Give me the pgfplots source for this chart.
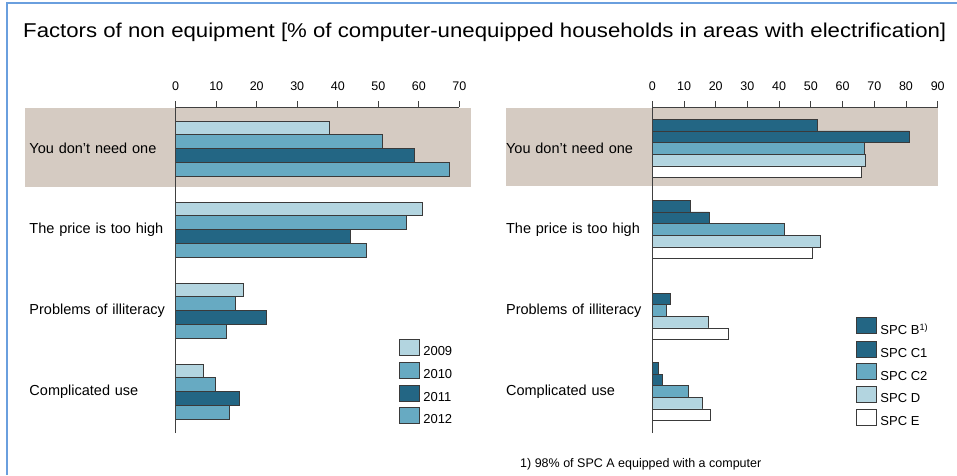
\documentclass[border=0pt]{standalone}
\usepackage{pgfplots}
\pgfplotsset{compat=1.18}
\usepackage{fontspec}
\setmainfont{Liberation Sans}
\newfontfamily\titlefont[FakeStretch=1.11]{Liberation Sans}
\definecolor{cdark}{HTML}{236684}
\definecolor{cmed}{HTML}{67AAC2}
\definecolor{clight}{HTML}{B3D5E0}
\definecolor{cband}{HTML}{D5CBC2}
\definecolor{cframe}{HTML}{6A9FDE}
\definecolor{cedge}{HTML}{3A3A3A}
\pgfplotsset{
  panel/.style={
    scale only axis, height=326pt,
    xbar, clip=false, axis on top,
    axis x line*=top, axis y line*=left,
    xmin=0, ymin=-0.512, ymax=3.512,
    ytick={0,1,2,3},
    yticklabels={Complicated use,Problems of illiteracy,The price is too high,You don't need one},
    major y tick style={draw=none},
    tick align=outside, major tick length=6pt,
    axis line style={line width=0.8pt, color=black!75},
    major x tick style={line width=0.8pt, color=black!75},
    /pgf/number format/assume math mode=true,
    xticklabel style={font=\fontsize{12.5}{12.5}\selectfont, inner sep=0pt, anchor=base, yshift=10.7pt},
    yticklabel style={font=\fontsize{14.5}{16}\selectfont, text width=140pt, align=left, anchor=east, inner sep=0pt},
    legend style={draw=none, fill=none, inner sep=0pt, row sep=3pt, column sep=2pt,
      font=\fontsize{13}{13}\selectfont, anchor=north west, nodes={inner sep=1.5pt}},
    legend cell align=left,
    legend image code/.code={\draw[##1] (0pt,-3.5pt) rectangle (20pt,12.5pt);},
  },
  barst/.style={draw=cedge, line width=0.7pt},
}
\begin{document}
\begin{tikzpicture}[x=1pt,y=1pt]
\draw[cframe, line width=1.5pt] (7pt,0pt) -- (7pt,472pt) -- (957pt,472pt);
\node[anchor=base west, inner sep=0pt, font=\titlefont\fontsize{20}{22}\selectfont] at (23pt,437pt)
  {Factors of non equipment [\% of computer-unequipped households in areas with electrification]};
% left panel
\begin{axis}[panel, at={(175.7pt,42pt)}, anchor=south west, width=283.6pt,
  xmax=70, xtick={0,10,...,70}, bar width=13.75pt,
  legend style={at={(0.787,0.288)}}]
  \fill[cband] (axis cs:-37.2,3.5) rectangle (axis cs:72.9,2.525);
  \addplot[barst, fill=clight, bar shift=20.6pt] coordinates {(38,3) (61,2) (16.8,1) (6.8,0)};
  \addplot[barst, fill=cmed, bar shift=6.9pt] coordinates {(50.9,3) (57,2) (14.7,1) (9.8,0)};
  \addplot[barst, fill=cdark, bar shift=-6.9pt] coordinates {(58.8,3) (43,2) (22.3,1) (15.7,0)};
  \addplot[barst, fill=cmed, bar shift=-20.6pt] coordinates {(67.6,3) (47,2) (12.4,1) (13.2,0)};
  \legend{2009,2010,2011,2012}
\end{axis}
% right panel
\begin{axis}[panel, at={(652.3pt,42pt)}, anchor=south west, width=285.4pt,
  xmax=90, xtick={0,10,...,90}, bar width=11.67pt,
  legend style={at={(0.714,0.356)}}]
  \fill[cband] (axis cs:-46.1,3.5) rectangle (axis cs:90,2.537);
  \addplot[barst, fill=cdark, bar shift=23.3pt] coordinates {(52,3) (12.1,2) (1.9,0)};
  \addplot[barst, fill=cdark, bar shift=11.67pt] coordinates {(81.1,3) (18,2) (5.8,1) (3.3,0)};
  \addplot[barst, fill=cmed, bar shift=0pt] coordinates {(66.9,3) (41.6,2) (4.5,1) (11.5,0)};
  \addplot[barst, fill=clight, bar shift=-11.67pt] coordinates {(67.1,3) (52.9,2) (17.8,1) (15.9,0)};
  \addplot[barst, fill=white, bar shift=-23.3pt] coordinates {(66,3) (50.5,2) (24.1,1) (18.4,0)};
  \legend{SPC B\textsuperscript{1)},SPC C1,SPC C2,SPC D,SPC E}
\end{axis}
\node[anchor=base west, inner sep=0pt, font=\fontsize{12.5}{12.5}\selectfont] at (520pt,8pt)
  {1) 98\% of SPC A equipped with a computer};
\pgfresetboundingbox
\path[use as bounding box] (0pt,0pt) rectangle (957pt,475pt);
\end{tikzpicture}
\end{document}
